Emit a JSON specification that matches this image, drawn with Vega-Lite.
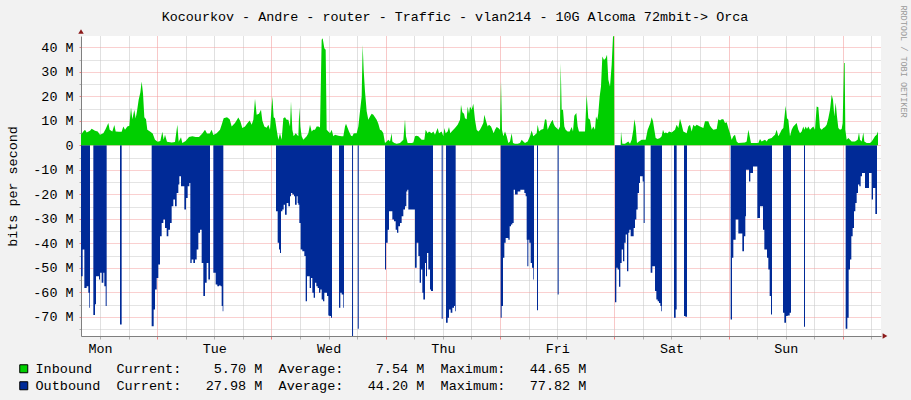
{
  "$schema": "https://vega.github.io/schema/vega-lite/v6.json",
  "width": 800,
  "height": 300,
  "autosize": {"type": "none"},
  "padding": {"left": 81, "top": 36, "right": 30, "bottom": 64},
  "background": "#F2F2F2",
  "config": {"view": {"fill": "#FFFFFF", "stroke": null}, "font": "Liberation Mono"},
  "title": {
    "text": "Kocourkov - Andre - router - Traffic - vlan214 - 10G Alcoma 72mbit-> Orca",
    "font": "Liberation Mono", "fontSize": 13.4, "fontWeight": "normal", "color": "#000000",
    "anchor": "middle", "frame": "group", "dx": -26, "dy": 30, "offset": 0, "baseline": "alphabetic"
  },
  "datasets": {
    "inb": [
      {"t":0,"v":4.3},{"t":0.49,"v":5.7},{"t":0.84,"v":6.4},{"t":1.19,"v":5.3},{"t":1.89,"v":6.0},{"t":2.24,"v":6.8},{"t":2.94,"v":6.0},{"t":3.5,"v":5.7},{"t":3.99,"v":4.3},{"t":4.69,"v":5.0},{"t":5.18,"v":6.7},{"t":5.74,"v":9.1},{"t":6.02,"v":6.4},{"t":6.58,"v":5.7},{"t":7.0,"v":8.3},{"t":7.28,"v":5.7},{"t":7.98,"v":5.6},{"t":8.54,"v":5.6},{"t":8.89,"v":7.7},{"t":9.24,"v":6.4},{"t":9.73,"v":7.7},{"t":10.15,"v":8.0},{"t":10.5,"v":15.6},{"t":10.78,"v":10.7},{"t":11.2,"v":14.5},{"t":11.48,"v":11.0},{"t":11.76,"v":13.9},{"t":12.11,"v":18.6},{"t":12.46,"v":21.6},{"t":12.74,"v":26.1},{"t":13.02,"v":21.3},{"t":13.3,"v":11.5},{"t":13.65,"v":10.7},{"t":13.93,"v":6.4},{"t":14.49,"v":5.7},{"t":15.05,"v":4.8},{"t":15.54,"v":2.3},{"t":16.1,"v":1.5},{"t":16.66,"v":1.8},{"t":17.08,"v":5.6},{"t":17.36,"v":2.3},{"t":17.64,"v":4.3},{"t":18.06,"v":1.5},{"t":19.04,"v":1.2},{"t":19.74,"v":1.4},{"t":20.23,"v":8.4},{"t":20.51,"v":1.5},{"t":21.0,"v":3.3},{"t":21.28,"v":1.0},{"t":21.98,"v":1.8},{"t":22.68,"v":3.4},{"t":23.38,"v":3.7},{"t":24.08,"v":3.4},{"t":24.78,"v":3.4},{"t":25.48,"v":4.8},{"t":26.04,"v":6.4},{"t":26.46,"v":4.8},{"t":27.02,"v":4.8},{"t":27.44,"v":6.4},{"t":27.79,"v":4.2},{"t":28.49,"v":5.0},{"t":29.19,"v":6.4},{"t":29.54,"v":8.4},{"t":29.96,"v":11.1},{"t":30.66,"v":11.5},{"t":31.22,"v":10.7},{"t":31.64,"v":7.7},{"t":32.34,"v":9.1},{"t":33.04,"v":11.4},{"t":33.46,"v":9.8},{"t":33.88,"v":7.1},{"t":34.44,"v":7.7},{"t":34.86,"v":8.8},{"t":35.42,"v":10.2},{"t":35.84,"v":8.4},{"t":36.19,"v":10.5},{"t":36.54,"v":19.0},{"t":36.89,"v":12.5},{"t":37.38,"v":12.9},{"t":37.8,"v":14.5},{"t":38.08,"v":10.2},{"t":38.5,"v":7.7},{"t":38.99,"v":7.2},{"t":39.34,"v":8.4},{"t":39.69,"v":6.4},{"t":40.18,"v":20.0},{"t":40.46,"v":11.5},{"t":40.74,"v":11.1},
      {"t":41.09,"v":6.4},{"t":41.44,"v":2.3},{"t":41.79,"v":5.0},{"t":42.14,"v":2.3},{"t":42.49,"v":11.1},{"t":42.84,"v":11.5},{"t":43.19,"v":10.5},{"t":43.54,"v":10.5},{"t":43.89,"v":7.7},{"t":44.1,"v":17.9},{"t":44.38,"v":6.4},{"t":44.66,"v":3.7},{"t":45.08,"v":5.0},{"t":45.64,"v":3.7},{"t":45.85,"v":15.6},{"t":46.06,"v":7.7},{"t":46.34,"v":3.7},{"t":46.69,"v":2.3},{"t":47.04,"v":3.0},{"t":47.39,"v":3.7},{"t":47.74,"v":5.0},{"t":48.09,"v":8.4},{"t":48.44,"v":5.7},{"t":48.79,"v":6.4},{"t":49.14,"v":6.4},{"t":49.49,"v":7.7},{"t":49.84,"v":7.7},{"t":50.19,"v":7.3},{"t":50.54,"v":43.1},{"t":50.75,"v":43.75},{"t":51.1,"v":39.7},{"t":51.38,"v":39.0},{"t":51.59,"v":6.4},{"t":51.94,"v":5.7},{"t":52.29,"v":5.0},{"t":52.64,"v":6.4},{"t":52.99,"v":3.7},{"t":53.34,"v":4.3},{"t":54.04,"v":3.9},{"t":54.74,"v":3.7},{"t":55.09,"v":3.7},{"t":55.44,"v":7.7},{"t":55.65,"v":8.8},{"t":56.0,"v":7.1},{"t":56.28,"v":5.7},{"t":56.7,"v":3.9},{"t":56.98,"v":3.7},{"t":57.26,"v":4.8},{"t":57.54,"v":5.0},{"t":57.89,"v":5.0},{"t":58.24,"v":7.7},{"t":58.59,"v":13.9},{"t":58.94,"v":20.0},{"t":59.15,"v":41.0},{"t":59.36,"v":30.8},{"t":59.64,"v":22.0},{"t":59.99,"v":13.9},{"t":60.34,"v":10.5},{"t":60.69,"v":11.8},{"t":61.04,"v":12.9},{"t":61.39,"v":12.5},{"t":61.74,"v":11.5},{"t":62.09,"v":10.5},{"t":62.44,"v":8.8},{"t":62.79,"v":6.4},{"t":63.14,"v":6.1},{"t":63.49,"v":5.0},{"t":63.84,"v":1.0},{"t":64.19,"v":1.6},{"t":64.54,"v":2.3},{"t":64.89,"v":1.6},{"t":65.24,"v":5.0},{"t":65.38,"v":1.6},{"t":65.8,"v":1.0},{"t":66.29,"v":0.7},{"t":66.99,"v":1.0},{"t":67.69,"v":2.3},{"t":68.04,"v":10.7},{"t":68.25,"v":3.7},{"t":68.6,"v":1.0},{"t":69.44,"v":1.0},{"t":69.79,"v":1.2},{"t":70.14,"v":3.7},{"t":70.49,"v":3.9},{"t":70.84,"v":3.7},{"t":71.19,"v":3.0},{"t":71.54,"v":2.3},{"t":72.1,"v":2.3},{"t":72.38,"v":6.4},{"t":72.8,"v":5.0},{"t":73.08,"v":5.7},{"t":73.64,"v":5.0},{"t":73.99,"v":5.7},{"t":74.34,"v":4.3},{"t":74.9,"v":7.1},{"t":75.18,"v":5.0},{"t":75.74,"v":5.7},{"t":76.09,"v":3.7},{"t":76.3,"v":7.1},{"t":76.58,"v":5.0},{"t":77.0,"v":5.7},{"t":77.28,"v":7.5},{"t":77.56,"v":5.0},{"t":77.84,"v":5.7},{"t":78.19,"v":6.4},{"t":78.54,"v":7.1},{"t":79.1,"v":8.4},{"t":79.59,"v":10.5},{"t":79.8,"v":16.6},{"t":80.08,"v":13.5},{"t":80.43,"v":12.9},{"t":80.64,"v":11.1},{"t":80.99,"v":10.7},{"t":81.2,"v":15.9},{"t":81.48,"v":12.9},{"t":81.69,"v":15.9},{"t":82.04,"v":14.5},{"t":82.39,"v":17.0},{"t":82.74,"v":10.5},{"t":83.09,"v":6.4},{"t":83.44,"v":5.7},{"t":83.79,"v":6.4},{"t":84.14,"v":7.7},{"t":84.49,"v":9.1},
      {"t":84.7,"v":12.5},{"t":84.98,"v":10.5},{"t":85.4,"v":7.7},{"t":85.68,"v":8.4},{"t":86.1,"v":7.7},{"t":86.38,"v":6.4},{"t":86.66,"v":5.0},{"t":86.94,"v":6.4},{"t":87.29,"v":7.5},{"t":87.64,"v":7.1},{"t":87.99,"v":6.4},{"t":88.2,"v":26.1},{"t":88.41,"v":6.4},{"t":88.69,"v":3.7},{"t":89.04,"v":5.7},{"t":89.39,"v":3.7},{"t":89.74,"v":1.0},{"t":90.09,"v":1.6},{"t":90.44,"v":5.0},{"t":90.72,"v":1.0},{"t":91.14,"v":0.7},{"t":91.7,"v":0.7},{"t":92.19,"v":1.0},{"t":92.54,"v":2.3},{"t":92.89,"v":1.6},{"t":93.24,"v":1.0},{"t":93.8,"v":1.6},{"t":94.29,"v":3.7},{"t":94.64,"v":6.1},{"t":94.99,"v":3.7},{"t":95.34,"v":4.3},{"t":95.69,"v":5.0},{"t":95.9,"v":8.4},{"t":96.18,"v":5.7},{"t":96.6,"v":6.4},{"t":97.09,"v":6.7},{"t":97.44,"v":10.7},{"t":97.72,"v":10.5},{"t":98.0,"v":6.4},{"t":98.28,"v":7.7},{"t":98.7,"v":9.4},{"t":99.05,"v":10.5},{"t":99.26,"v":8.8},{"t":99.54,"v":7.7},{"t":99.89,"v":7.1},{"t":100.24,"v":6.4},{"t":100.59,"v":7.7},{"t":100.73,"v":33.6},{"t":100.94,"v":14.5},{"t":101.22,"v":14.5},{"t":101.5,"v":7.7},{"t":101.78,"v":6.4},{"t":102.2,"v":5.7},{"t":102.62,"v":5.7},{"t":103.04,"v":7.5},{"t":103.32,"v":5.7},{"t":103.6,"v":12.1},{"t":104.02,"v":13.2},{"t":104.3,"v":7.7},{"t":104.58,"v":5.7},{"t":105.49,"v":5.7},{"t":105.84,"v":5.7},{"t":106.19,"v":20.7},{"t":106.54,"v":11.1},{"t":106.89,"v":10.5},{"t":107.24,"v":6.4},{"t":107.59,"v":7.7},{"t":107.94,"v":6.4},{"t":108.15,"v":11.8},{"t":108.43,"v":10.5},{"t":108.64,"v":13.2},{"t":108.92,"v":20.0},{"t":109.2,"v":24.0},{"t":109.48,"v":36.3},{"t":109.83,"v":34.9},{"t":110.18,"v":35.6},{"t":110.46,"v":37.0},{"t":110.74,"v":26.8},{"t":111.09,"v":24.0},{"t":111.44,"v":32.9},{"t":111.72,"v":44.4},{"t":111.93,"v":44.65},{"t":112.0,"v":0},{"t":113.33,"v":0},{"t":113.4,"v":5.7},{"t":113.68,"v":0.7},{"t":114.24,"v":0.7},{"t":114.94,"v":1.6},{"t":115.29,"v":0.7},{"t":115.64,"v":2.3},{"t":115.99,"v":6.4},{"t":116.2,"v":10.7},{"t":116.48,"v":7.7},{"t":116.76,"v":1.0},{"t":117.18,"v":1.6},{"t":117.74,"v":2.3},{"t":118.58,"v":2.3},{"t":119.0,"v":6.4},{"t":119.28,"v":7.7},{"t":119.56,"v":9.1},{"t":119.84,"v":11.5},{"t":120.12,"v":9.8},{"t":120.4,"v":6.4},{"t":120.68,"v":3.0},{"t":121.1,"v":2.6},{"t":121.59,"v":3.0},{"t":121.94,"v":3.7},{"t":122.22,"v":6.4},{"t":122.5,"v":5.0},{"t":122.78,"v":5.3},{"t":123.2,"v":5.0},{"t":123.48,"v":5.7},{"t":124.04,"v":5.3},{"t":124.74,"v":6.4},
      {"t":125.09,"v":8.4},{"t":125.44,"v":7.1},{"t":125.79,"v":10.9},{"t":126.14,"v":8.4},{"t":126.49,"v":5.7},{"t":127.19,"v":5.0},{"t":127.54,"v":7.7},{"t":127.89,"v":8.4},{"t":128.24,"v":5.7},{"t":128.59,"v":8.4},{"t":128.94,"v":7.7},{"t":129.29,"v":8.4},{"t":129.99,"v":7.7},{"t":130.69,"v":7.1},{"t":131.04,"v":9.8},{"t":131.74,"v":9.8},{"t":132.09,"v":8.0},{"t":132.44,"v":7.1},{"t":132.79,"v":6.4},{"t":133.49,"v":6.7},{"t":133.84,"v":10.7},{"t":134.19,"v":10.2},{"t":134.54,"v":10.7},{"t":134.89,"v":10.7},{"t":135.24,"v":9.1},{"t":135.59,"v":9.4},{"t":135.94,"v":7.1},{"t":136.29,"v":5.0},{"t":136.64,"v":2.3},{"t":136.99,"v":3.7},{"t":137.34,"v":4.3},{"t":137.69,"v":1.6},{"t":138.04,"v":1.0},{"t":139.44,"v":1.2},{"t":139.79,"v":1.6},{"t":140.14,"v":6.4},{"t":140.42,"v":3.7},{"t":140.7,"v":1.0},{"t":141.54,"v":1.0},{"t":142.24,"v":1.0},{"t":142.59,"v":2.6},{"t":142.94,"v":1.6},{"t":143.64,"v":2.3},{"t":143.99,"v":1.6},{"t":144.34,"v":2.6},{"t":145.04,"v":3.0},{"t":145.39,"v":3.7},{"t":145.74,"v":4.3},{"t":146.09,"v":6.4},{"t":146.44,"v":3.7},{"t":146.79,"v":5.0},{"t":147.14,"v":6.4},{"t":147.49,"v":7.1},{"t":147.7,"v":11.1},{"t":147.98,"v":16.2},{"t":148.26,"v":11.1},{"t":148.54,"v":10.5},{"t":148.89,"v":3.7},{"t":149.24,"v":6.4},{"t":149.59,"v":7.7},{"t":149.94,"v":8.4},{"t":150.29,"v":9.1},{"t":150.64,"v":6.4},{"t":150.99,"v":5.0},{"t":151.34,"v":5.7},{"t":151.69,"v":7.7},{"t":151.9,"v":6.4},{"t":152.18,"v":7.7},{"t":152.46,"v":6.7},{"t":152.74,"v":7.7},{"t":153.09,"v":6.4},{"t":153.44,"v":7.1},{"t":153.79,"v":7.7},{"t":154.14,"v":6.4},{"t":154.49,"v":15.9},{"t":154.84,"v":15.6},{"t":155.19,"v":7.1},{"t":155.54,"v":6.4},{"t":155.89,"v":7.1},{"t":156.24,"v":7.5},{"t":156.59,"v":8.4},{"t":156.94,"v":11.1},{"t":157.29,"v":14.5},{"t":157.64,"v":20.7},{"t":157.92,"v":18.6},{"t":158.2,"v":11.8},{"t":158.48,"v":17.5},{"t":158.76,"v":11.8},{"t":159.04,"v":7.1},{"t":159.39,"v":6.4},{"t":159.74,"v":6.7},{"t":159.95,"v":9.1},{"t":160.23,"v":33.6},{"t":160.37,"v":33.6},{"t":160.51,"v":6.4},{"t":160.79,"v":2.3},{"t":161.14,"v":3.0},{"t":161.84,"v":1.6},{"t":162.54,"v":1.6},{"t":163.1,"v":2.3},{"t":163.38,"v":5.3},{"t":163.59,"v":2.3},{"t":163.94,"v":1.6},{"t":164.29,"v":5.3},{"t":164.5,"v":1.6},{"t":164.99,"v":1.0},{"t":165.69,"v":1.0},{"t":166.04,"v":1.6},{"t":166.39,"v":2.6},{"t":166.74,"v":3.7},{"t":167.09,"v":4.3},{"t":167.37,"v":5.7}
    ],
    "outb": [
      {"t":0,"v":-53.4},{"t":0.35,"v":-42.5},{"t":0.7,"v":-58.2},{"t":1.19,"v":-57.5},{"t":1.54,"v":-60.2},{"t":1.75,"v":-66.3},{"t":1.89,"v":0},
      {"t":2.59,"v":-69.2},{"t":2.94,"v":-64.9},{"t":3.15,"v":-53.4},{"t":3.78,"v":-54.8},{"t":3.99,"v":-52.0},{"t":4.34,"v":-56.1},{"t":4.69,"v":-52.0},{"t":4.9,"v":-57.5},{"t":5.18,"v":-65.6},{"t":5.39,"v":0},
      {"t":8.19,"v":-73.1},{"t":8.54,"v":0},
      {"t":14.84,"v":-73.8},{"t":15.26,"v":-67.0},{"t":15.54,"v":-58.8},{"t":15.89,"v":-54.1},{"t":16.24,"v":-48.6},{"t":16.59,"v":-37.1},{"t":16.94,"v":-31.7},{"t":17.29,"v":-30.3},{"t":17.64,"v":-33.7},{"t":17.99,"v":-37.1},{"t":18.34,"v":-34.4},{"t":18.69,"v":-31.7},{"t":19.04,"v":-24.9},{"t":19.39,"v":-22.1},{"t":19.74,"v":-24.9},{"t":20.09,"v":-19.4},{"t":20.44,"v":-16.0},{"t":20.65,"v":-12.6},{"t":21.0,"v":-16.7},{"t":21.7,"v":-26.2},{"t":22.05,"v":-21.5},{"t":22.4,"v":-16.7},{"t":22.75,"v":-15.4},{"t":22.96,"v":-48.0},{"t":23.24,"v":-46.6},{"t":23.59,"v":-48.0},{"t":23.94,"v":-46.6},{"t":24.29,"v":-42.5},{"t":24.64,"v":-35.7},{"t":24.99,"v":-34.4},{"t":25.34,"v":-48.0},{"t":25.69,"v":-61.5},{"t":26.04,"v":-56.1},{"t":26.39,"v":-48.0},{"t":26.74,"v":-54.8},{"t":27.09,"v":0},
      {"t":27.79,"v":-52.0},{"t":28.28,"v":-56.8},{"t":28.63,"v":-57.5},{"t":28.98,"v":-57.2},{"t":29.33,"v":-57.5},{"t":29.54,"v":-65.6},{"t":29.75,"v":-67.7},{"t":29.89,"v":0},
      {"t":40.95,"v":-26.9},{"t":41.3,"v":-39.8},{"t":41.58,"v":-42.5},{"t":41.79,"v":-43.9},{"t":42.0,"v":-26.9},{"t":42.28,"v":-26.2},{"t":42.56,"v":-24.2},{"t":42.84,"v":-28.3},{"t":43.19,"v":-23.5},{"t":43.54,"v":-24.9},{"t":43.89,"v":-20.8},{"t":44.1,"v":-19.4},{"t":44.38,"v":-20.1},{"t":44.73,"v":-20.8},{"t":44.94,"v":-24.2},{"t":45.29,"v":-20.8},{"t":45.5,"v":-23.5},{"t":45.64,"v":-24.2},{"t":45.85,"v":-31.7},{"t":46.13,"v":-42.5},{"t":46.48,"v":-43.2},{"t":46.9,"v":-45.2},{"t":47.18,"v":-63.6},{"t":47.46,"v":-53.4},{"t":48.02,"v":-58.2},{"t":48.3,"v":-54.1},{"t":48.58,"v":-60.2},{"t":48.86,"v":-62.2},{"t":49.14,"v":-56.1},{"t":49.42,"v":-57.5},{"t":49.7,"v":-58.2},{"t":49.98,"v":-60.2},{"t":50.26,"v":-58.8},{"t":50.54,"v":-62.9},{"t":50.82,"v":-63.6},{"t":51.1,"v":-60.2},{"t":51.66,"v":-61.5},{"t":51.94,"v":-69.4},{"t":52.15,"v":-69.7},{"t":52.5,"v":-70.4},{"t":52.71,"v":0},
      {"t":54.18,"v":-66.3},{"t":54.46,"v":-60.2},{"t":54.74,"v":-60.9},{"t":55.09,"v":-66.3},{"t":55.23,"v":0},
      {"t":56.92,"v":-77.82},{"t":57.13,"v":0},
      {"t":58.12,"v":-74.9},{"t":58.33,"v":0},
      {"t":63.84,"v":-50.7},{"t":64.05,"v":-39.8},{"t":64.4,"v":-34.4},{"t":64.68,"v":-26.9},{"t":65.38,"v":-30.3},{"t":65.73,"v":-31.0},{"t":66.08,"v":-34.4},{"t":66.36,"v":-35.7},{"t":66.64,"v":-33.0},{"t":66.99,"v":-31.7},{"t":67.34,"v":-28.9},{"t":67.69,"v":-26.2},{"t":68.04,"v":-24.9},{"t":68.32,"v":-18.8},{"t":68.53,"v":-18.1},{"t":68.74,"v":-26.2},{"t":70.14,"v":-50.0},{"t":70.49,"v":-39.8},{"t":70.84,"v":-45.2},{"t":71.12,"v":-56.1},{"t":71.4,"v":-50.7},{"t":71.68,"v":-60.2},{"t":71.89,"v":-62.9},{"t":72.24,"v":-48.0},{"t":72.45,"v":-53.4},{"t":72.66,"v":-43.9},{"t":72.94,"v":-50.7},{"t":73.29,"v":-58.8},{"t":73.5,"v":-59.5},{"t":73.92,"v":0},
      {"t":75.74,"v":-70.8},{"t":75.95,"v":0},
      {"t":76.65,"v":-72.4},{"t":77.0,"v":-70.4},{"t":77.28,"v":-67.0},{"t":77.63,"v":-68.3},{"t":77.98,"v":-66.3},{"t":78.33,"v":-65.6},{"t":78.54,"v":-67.7},{"t":78.68,"v":0},
      {"t":88.13,"v":-70.4},{"t":88.34,"v":-65.6},{"t":88.62,"v":-45.9},{"t":88.9,"v":-39.8},{"t":89.18,"v":-37.8},{"t":89.74,"v":-38.5},{"t":90.02,"v":-33.0},{"t":90.3,"v":-32.3},{"t":90.58,"v":-31.7},{"t":90.86,"v":-18.1},{"t":91.14,"v":-20.1},{"t":91.7,"v":-18.8},{"t":92.26,"v":-18.1},{"t":93.1,"v":-19.4},{"t":93.38,"v":-20.8},{"t":93.59,"v":-38.5},{"t":93.73,"v":-49.3},{"t":93.94,"v":-38.5},{"t":94.15,"v":-39.8},{"t":94.43,"v":-48.0},{"t":94.71,"v":-50.0},{"t":94.99,"v":-54.8},{"t":95.13,"v":0},
      {"t":95.76,"v":-67.3},{"t":95.97,"v":0},
      {"t":100.1,"v":-60.9},{"t":100.31,"v":0},
      {"t":112.14,"v":-64.0},{"t":112.42,"v":-50.0},{"t":112.7,"v":-50.7},{"t":112.98,"v":-57.7},{"t":113.26,"v":-48.0},{"t":113.54,"v":-42.5},{"t":113.82,"v":-47.3},{"t":114.1,"v":-39.8},{"t":114.38,"v":-36.4},{"t":114.66,"v":-51.4},{"t":114.94,"v":-35.7},{"t":115.15,"v":-34.4},{"t":115.43,"v":-37.1},{"t":116.06,"v":-33.7},{"t":116.34,"v":-30.3},{"t":116.62,"v":-26.2},{"t":116.9,"v":-19.4},{"t":117.18,"v":-15.4},{"t":117.39,"v":-12.6},{"t":117.95,"v":-14.7},{"t":118.16,"v":-31.7},{"t":118.37,"v":0},
      {"t":119.63,"v":-52.0},{"t":119.98,"v":-49.3},{"t":120.54,"v":-59.5},{"t":120.82,"v":-62.9},{"t":121.1,"v":-63.6},{"t":121.38,"v":-64.3},{"t":121.66,"v":-65.6},{"t":121.87,"v":-67.7},{"t":122.01,"v":0},
      {"t":124.53,"v":-70.4},{"t":124.88,"v":-67.0},{"t":125.09,"v":0},
      {"t":126.63,"v":-69.7},{"t":126.91,"v":-70.0},{"t":127.26,"v":0},
      {"t":136.43,"v":-71.1},{"t":136.71,"v":-45.9},{"t":136.99,"v":-38.5},{"t":137.48,"v":-30.3},{"t":138.04,"v":-36.0},{"t":138.88,"v":-43.2},{"t":139.23,"v":-37.1},{"t":139.51,"v":-28.9},{"t":139.65,"v":-9.9},{"t":140.28,"v":-14.7},{"t":140.56,"v":-11.3},{"t":141.12,"v":-8.6},{"t":142.03,"v":-29.6},{"t":142.59,"v":-24.9},{"t":143.22,"v":-34.4},{"t":143.5,"v":-42.5},{"t":144.06,"v":-45.9},{"t":144.34,"v":-50.7},{"t":144.62,"v":-61.5},{"t":144.9,"v":-69.0},{"t":145.11,"v":0},
      {"t":147.42,"v":-68.3},{"t":147.7,"v":-72.4},{"t":148.05,"v":-69.7},{"t":148.4,"v":-69.4},{"t":148.82,"v":-68.3},{"t":149.1,"v":0},
      {"t":151.83,"v":-74.0},{"t":152.04,"v":0},
      {"t":160.58,"v":-74.9},{"t":160.93,"v":-70.4},{"t":161.21,"v":-50.7},{"t":161.49,"v":-46.6},{"t":161.77,"v":-37.1},{"t":162.05,"v":-33.7},{"t":162.33,"v":-26.9},{"t":162.61,"v":-23.5},{"t":162.89,"v":-19.4},{"t":163.17,"v":-16.0},{"t":163.45,"v":-16.7},{"t":163.73,"v":-12.6},{"t":164.01,"v":-11.3},{"t":164.64,"v":-17.4},{"t":165.48,"v":-11.3},{"t":166.04,"v":-22.1},{"t":166.32,"v":-17.4},{"t":166.81,"v":-28.0},{"t":167.16,"v":0}
    ],
    "arrowUp": [{"t":0,"v":44.65}],
    "arrowRight": [{"t":168,"v":-77.82}]
  },
  "encoding": {
    "x": {"field": "t", "type": "quantitative",
      "scale": {"domain": [0, 168], "nice": false, "zero": false},
      "axis": {
        "title": null,
        "values": [4,10,16,22,28,34,40,46,52,58,64,70,76,82,88,94,100,106,112,118,124,130,136,142,148,154,160,166],
        "grid": true,
        "gridColor": {"condition": {"test": "datum.value % 24 === 16", "value": "#F09090"}, "value": "#C0C0C0"},
        "gridDash": [1, 1], "gridWidth": 1, "gridOpacity": 1,
        "domainColor": "#7F7F7F", "domainWidth": 1,
        "ticks": true, "tickSize": 3,
        "tickColor": {"condition": {"test": "datum.value % 24 === 16", "value": "#F08080"}, "value": "#B0B0B0"},
        "labelExpr": "datum.value % 24 === 4 ? ['Mon','Tue','Wed','Thu','Fri','Sat','Sun'][floor(datum.value / 24)] : ''",
        "labelFont": "Liberation Mono", "labelFontSize": 13.4, "labelColor": "#000000",
        "labelPadding": 2, "labelOverlap": false, "labelFlush": false, "labelBound": false
      }
    }
  },
  "layer": [
    {
      "data": {"name": "outb"},
      "mark": {"type": "area", "interpolate": "step-after"},
      "encoding": {
        "y": {"field": "v", "type": "quantitative",
          "scale": {"domain": [-77.82, 44.65], "nice": false, "zero": false},
          "axis": {
            "title": "bits per second",
            "titleFont": "Liberation Mono", "titleFontSize": 13.4, "titleFontWeight": "normal", "titleColor": "#000000",
            "titleAngle": -90, "titleX": -69, "titleY": 150, "titleAlign": "center", "titleBaseline": "middle",
            "values": [-75,-70,-65,-60,-55,-50,-45,-40,-35,-30,-25,-20,-15,-10,-5,0,5,10,15,20,25,30,35,40],
            "grid": true,
            "gridColor": {"condition": {"test": "datum.value % 10 === 0", "value": "#F4A0A0"}, "value": "#C8C8C8"},
            "gridDash": [1, 1], "gridWidth": 1, "gridOpacity": 1,
            "domainColor": "#7F7F7F", "domainWidth": 1,
            "ticks": true, "tickSize": 2,
            "tickColor": {"condition": {"test": "datum.value % 10 === 0", "value": "#F08080"}, "value": "#B0B0B0"},
            "labelExpr": "datum.value % 10 === 0 ? (datum.value === 0 ? '0' : datum.value + ' M') : ''",
            "labelFont": "Liberation Mono", "labelFontSize": 13.4, "labelColor": "#000000",
            "labelPadding": 6, "labelOverlap": false, "labelFlush": false, "labelBound": false
          }
        },
        "color": {"datum": "Outbound", "type": "nominal",
          "scale": {"domain": ["Inbound", "Outbound"], "range": ["#00CF00", "#002A97"]},
          "legend": {
            "orient": "none", "legendX": -64, "legendY": 326, "direction": "vertical", "title": null,
            "symbolType": "square", "symbolSize": 64, "symbolStrokeColor": "#000000", "symbolStrokeWidth": 1, "symbolOpacity": 1,
            "labelFont": "Liberation Mono", "labelFontSize": 13.5, "labelColor": "#000000", "labelOffset": 5,
            "labelLimit": 2000, "rowPadding": 2, "padding": 0,
            "labelExpr": "datum.label === 'Inbound' ? 'Inbound\u00a0\u00a0\u00a0Current:\u00a0\u00a0\u00a0\u00a05.70\u00a0M\u00a0\u00a0Average:\u00a0\u00a0\u00a0\u00a07.54\u00a0M\u00a0\u00a0Maximum:\u00a0\u00a0\u00a044.65\u00a0M' : 'Outbound\u00a0\u00a0Current:\u00a0\u00a0\u00a027.98\u00a0M\u00a0\u00a0Average:\u00a0\u00a0\u00a044.20\u00a0M\u00a0\u00a0Maximum:\u00a0\u00a0\u00a077.82\u00a0M'"
          }
        }
      }
    },
    {
      "data": {"name": "inb"},
      "mark": {"type": "area", "interpolate": "linear"},
      "encoding": {
        "y": {"field": "v", "type": "quantitative", "scale": {"domain": [-77.82, 44.65], "nice": false, "zero": false}, "axis": null},
        "color": {"datum": "Inbound", "type": "nominal",
          "scale": {"domain": ["Inbound", "Outbound"], "range": ["#00CF00", "#002A97"]}}
      }
    },
    {
      "data": {"name": "arrowUp"},
      "mark": {"type": "point", "shape": "triangle-up", "filled": true, "size": 30, "color": "#8B1A1A", "opacity": 1, "yOffset": -4.5},
      "encoding": {
        "y": {"field": "v", "type": "quantitative", "scale": {"domain": [-77.82, 44.65], "nice": false, "zero": false}, "axis": null}
      }
    },
    {
      "data": {"name": "arrowRight"},
      "mark": {"type": "point", "shape": "triangle-right", "filled": true, "size": 30, "color": "#8B1A1A", "opacity": 1, "xOffset": 4},
      "encoding": {
        "y": {"field": "v", "type": "quantitative", "scale": {"domain": [-77.82, 44.65], "nice": false, "zero": false},
          "axis": {
            "orient": "right", "title": "RRDTOOL / TOBI OETIKER",
            "labels": false, "ticks": false, "domain": false, "grid": false,
            "titleAngle": 90, "titleX": 22, "titleY": 25, "titleAlign": "center", "titleBaseline": "middle",
            "titleFont": "Liberation Mono", "titleFontSize": 8.5, "titleFontWeight": "normal", "titleColor": "#9A9A9A"
          }
        }
      }
    }
  ],
  "resolve": {"axis": {"y": "independent"}}
}
